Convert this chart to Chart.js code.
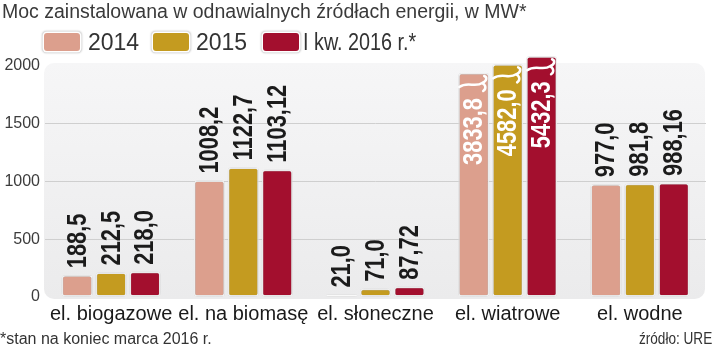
<!DOCTYPE html>
<html lang="pl">
<head>
<meta charset="utf-8">
<title>Moc zainstalowana w odnawialnych źródłach energii</title>
<script src="https://cdn.jsdelivr.net/npm/chart.js@4.4.1/dist/chart.umd.min.js"></script>
<style>
  html, body { margin: 0; padding: 0; background: #fff; }
  #wrap { position: relative; width: 720px; height: 351px; overflow: hidden;
          font-family: 'Liberation Sans', Arial, sans-serif; color: #333; }
  #wykres { position: absolute; left: 0; top: 0; }
  .tytul { position: absolute; left: 2px; top: 0px; font-size: 19.5px; white-space: nowrap; color: #3a3a3a; }
  .leg { position: absolute; top: 33px; width: 36px; height: 18px; border-radius: 3px;
         box-shadow: 0 0 0 1.5px #fff, 0 0 2px 1.5px rgba(0,0,0,0.25); }
  .legtxt { position: absolute; top: 29px; font-size: 23px; white-space: nowrap; color: #333;
            transform-origin: left top; }
  .przypis { position: absolute; top: 330px; font-size: 16px; white-space: nowrap; color: #333; }
</style>
</head>
<body>
<div id="wrap">
  <canvas id="wykres" width="720" height="351"></canvas>
  <div class="tytul">Moc zainstalowana w odnawialnych źródłach energii, w MW*</div>
  <div class="leg" style="left:44px; background:#dc9f8d"></div>
  <div class="legtxt" style="left:88px">2014</div>
  <div class="leg" style="left:153px; background:#c49b20"></div>
  <div class="legtxt" style="left:196px">2015</div>
  <div class="leg" style="left:263px; background:#a30f2e"></div>
  <div class="legtxt" style="left:303px; transform:scaleX(0.86)">I kw. 2016 r.*</div>
  <div class="przypis" style="left:0px">*stan na koniec marca 2016 r.</div>
  <div class="przypis" style="right:8px; transform:scaleX(0.85); transform-origin:right top">źródło: URE</div>
</div>
<script>
// Dane: moc zainstalowana, MW
const kategorie = ['el. biogazowe', 'el. na biomasę', 'el. słoneczne', 'el. wiatrowe', 'el. wodne'];
const moc2014 = [188.5, 1008.2, 21.0, 3833.8, 977.0];
const moc2015 = [212.5, 1122.7, 71.0, 4582.0, 981.8];
const moc2016 = [218.0, 1103.12, 87.72, 5432.3, 988.16];
// słupki wiatrowe nie mieszczą się w skali - rysowane jako "przecięte" na tej wysokości
const wiatroweCiete = [1940, 2015, 2085];
const osY = [0, 500, 1000, 1500, 2000];

// wysokość słupka (przecięta dla wiatrowych)
function slupki(wartosci, seria) {
    return wartosci.map((v, i) => kategorie[i] === 'el. wiatrowe' ? wiatroweCiete[seria] : v);
}

function formatuj(v) {
    const miejsca = Math.round(v * 100) % 10 !== 0 ? 2 : 1;
    return v.toFixed(miejsca).replace('.', ',');
}

// szare tło z zaokrąglonymi rogami pod wykresem
const tloPlugin = {
    id: 'tlo',
    beforeDraw(chart) {
        const { ctx, chartArea } = chart;
        const y = chart.scales.y;
        const top = y.getPixelForValue(2000) - 3;
        const bottom = chartArea.bottom + 2;
        const left = chartArea.left - 1;
        const right = chartArea.right - 1;
        ctx.save();
        const grad = ctx.createLinearGradient(0, top, 0, bottom);
        grad.addColorStop(0, '#f6f6f7');
        grad.addColorStop(1, '#ebebec');
        ctx.fillStyle = grad;
        ctx.beginPath();
        ctx.roundRect(left, top, right - left, bottom - top, 10);
        ctx.fill();
        ctx.restore();
    }
};

// cień pod słupkami
const cienPlugin = {
    id: 'cien',
    beforeDatasetsDraw(chart) {
        const ctx = chart.ctx;
        ctx.save();
        ctx.shadowColor = 'rgba(0, 0, 0, 0.3)';
        ctx.shadowBlur = 2;
    },
    afterDatasetsDraw(chart) {
        chart.ctx.restore();
    }
};

// pionowe etykiety wartości i znaczki przecięcia
const etykietyPlugin = {
    id: 'etykiety',
    afterDatasetsDraw(chart) {
        const ctx = chart.ctx;
        chart.data.datasets.forEach((ds, d) => {
            chart.getDatasetMeta(d).data.forEach((bar, i) => {
                const wartosc = ds.wartosci[i];
                const ciete = wartosc > ds.data[i];
                const w = bar.width;
                const left = bar.x - w / 2;
                const right = bar.x + w / 2;

                if (ciete) {
                    ctx.save();
                    ctx.strokeStyle = '#fff';
                    ctx.lineWidth = 2.5;
                    ctx.lineCap = 'round';
                    const t = bar.y;
                    ctx.beginPath();
                    ctx.moveTo(left + 1, t + 14);
                    ctx.bezierCurveTo(left + w * 0.3, t + 8, left + w * 0.55, t + 15, right - 7, t + 10);
                    ctx.bezierCurveTo(right - 2, t + 8, right - 2, t + 4, right - 5, t + 3);
                    ctx.moveTo(right - 7, t + 10);
                    ctx.bezierCurveTo(right - 3, t + 12, right - 3, t + 16, right - 6, t + 18);
                    ctx.stroke();
                    ctx.restore();
                }

                ctx.save();
                ctx.translate(bar.x, ciete ? bar.y + 25 : bar.y - 7);
                ctx.rotate(-Math.PI / 2);
                ctx.scale(0.81, 1);
                ctx.font = 'bold 27px "Liberation Sans", Arial, sans-serif';
                ctx.textBaseline = 'middle';
                ctx.textAlign = ciete ? 'right' : 'left';
                ctx.fillStyle = ciete ? '#fff' : '#1b1b1b';
                ctx.fillText(formatuj(wartosc), 0, 1);
                ctx.restore();
            });
        });
    }
};

const wspolne = {
    borderColor: 'rgba(255, 255, 255, 0.9)',
    borderWidth: 1.5,
    borderRadius: 3,
    borderSkipped: false,
    categoryPercentage: 0.77,
    barPercentage: 0.91
};

new Chart(document.getElementById('wykres'), {
    type: 'bar',
    data: {
        labels: kategorie,
        datasets: [
            { label: '2014', data: slupki(moc2014, 0), wartosci: moc2014, backgroundColor: '#dc9f8d', ...wspolne },
            { label: '2015', data: slupki(moc2015, 1), wartosci: moc2015, backgroundColor: '#c49b20', ...wspolne },
            { label: 'I kw. 2016 r.*', data: slupki(moc2016, 2), wartosci: moc2016, backgroundColor: '#a30f2e', ...wspolne }
        ]
    },
    options: {
        responsive: false,
        animation: false,
        layout: {
            padding: { top: 43, right: 14, left: 0, bottom: 0 }
        },
        plugins: {
            legend: { display: false },
            title: { display: false },
            tooltip: { enabled: false }
        },
        scales: {
            x: {
                grid: { display: false },
                border: { display: false },
                ticks: {
                    color: '#1a1a1a',
                    font: { family: "'Liberation Sans', Arial, sans-serif", size: 20, lineHeight: 1 },
                    padding: -1,
                    maxRotation: 0,
                    autoSkip: false
                },
                afterFit(s) { s.height = 54; }
            },
            y: {
                min: 0,
                max: 2200,
                afterBuildTicks(s) { s.ticks = osY.map(v => ({ value: v })); },
                border: { display: false },
                grid: {
                    drawTicks: false,
                    lineWidth: 1,
                    color: ctx => (ctx.tick && (ctx.tick.value === 0 || ctx.tick.value === 2000)) ? 'rgba(0,0,0,0)' : '#cfcfcf'
                },
                ticks: {
                    color: '#3c3c3c',
                    font: { family: "'Liberation Sans', Arial, sans-serif", size: 16 },
                    padding: 5,
                    callback: v => String(v)
                },
                afterFit(s) { s.width = 45; }
            }
        }
    },
    plugins: [tloPlugin, cienPlugin, etykietyPlugin]
});
</script>
</body>
</html>
